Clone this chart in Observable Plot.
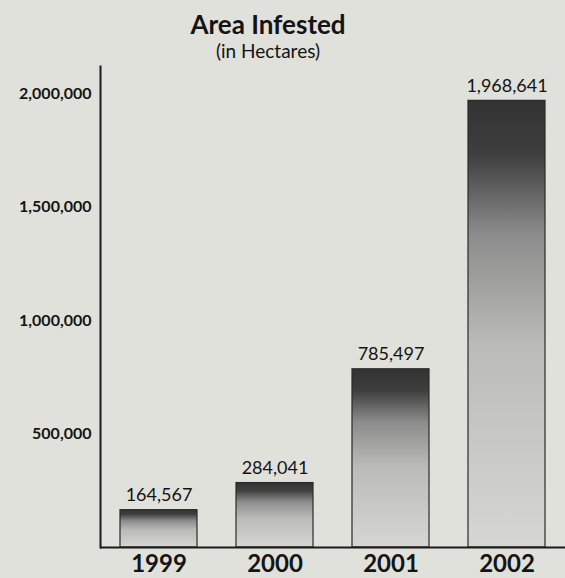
<!DOCTYPE html>
<html>
<head>
<meta charset="utf-8">
<script src="https://cdn.jsdelivr.net/npm/d3@7"></script>
<script src="https://cdn.jsdelivr.net/npm/@observablehq/plot@0.6"></script>
<style>
  html, body { margin: 0; padding: 0; background: #e0e1db; }
  body { width: 565px; height: 578px; overflow: hidden; font-family: Lato, "Open Sans", sans-serif; color: #141414; }
  #head { width: 536px; text-align: center; height: 64px; }
  #title { font-weight: bold; font-size: 26px; line-height: 26px; padding-top: 11px; }
  #sub { font-size: 19px; line-height: 20px; padding-top: 4px; }
  svg { display: block; }
</style>
</head>
<body>
<div id="head">
  <div id="title">Area Infested</div>
  <div id="sub">(in Hectares)</div>
</div>
<div id="chart"></div>
<script>
const years = ["1999", "2000", "2001", "2002"];
const hectares = [164567, 284041, 785497, 1968641];
const yTicks = [500000, 1000000, 1500000, 2000000];

const data = years.map((year, i) => ({year, value: hectares[i]}));
const fmt = d3.format(",");

const plot = Plot.plot({
  width: 565,
  height: 514,
  marginLeft: 100,
  marginRight: 0,
  marginTop: 2,
  marginBottom: 31,
  style: {background: "transparent", fontFamily: "Lato, 'Open Sans', sans-serif", color: "#141414"},
  x: {domain: years, paddingInner: 0.34, paddingOuter: 0.17, label: null},
  y: {domain: [0, 2120000], label: null},
  marks: [
    Plot.barY(data, {x: "year", y: "value", fill: "url(#barGrad)", stroke: "#2a2a2a", strokeWidth: 1.2}),
    Plot.text(data, {x: "year", y: "value", text: d => fmt(d.value), dy: -9, lineAnchor: "bottom", fontSize: 18, fill: "#141414"}),
    Plot.axisY({ticks: yTicks, tickFormat: fmt, tickSize: 0, tickPadding: 9, fontSize: 16, fontWeight: "bold", label: null}),
    Plot.axisX({tickSize: 0, tickPadding: 7, fontSize: 24, fontWeight: "bold", label: null}),
    Plot.frame({anchor: "left", stroke: "#1a1a1a", strokeWidth: 2}),
    Plot.ruleY([0], {stroke: "#1a1a1a", strokeWidth: 2})
  ]
});

const svg = d3.select(plot);
const defs = svg.insert("defs", ":first-child");
const g = defs.append("linearGradient").attr("id", "barGrad").attr("x1", 0).attr("y1", 0).attr("x2", 0).attr("y2", 1);
[[0, "#333333"], [0.12, "#3e3e3e"], [0.3, "#8c8c8c"], [0.55, "#bbbbb9"], [1, "#d6d7d3"]].forEach(([o, c]) =>
  g.append("stop").attr("offset", o).attr("stop-color", c));

document.getElementById("chart").appendChild(plot);
</script>
</body>
</html>
